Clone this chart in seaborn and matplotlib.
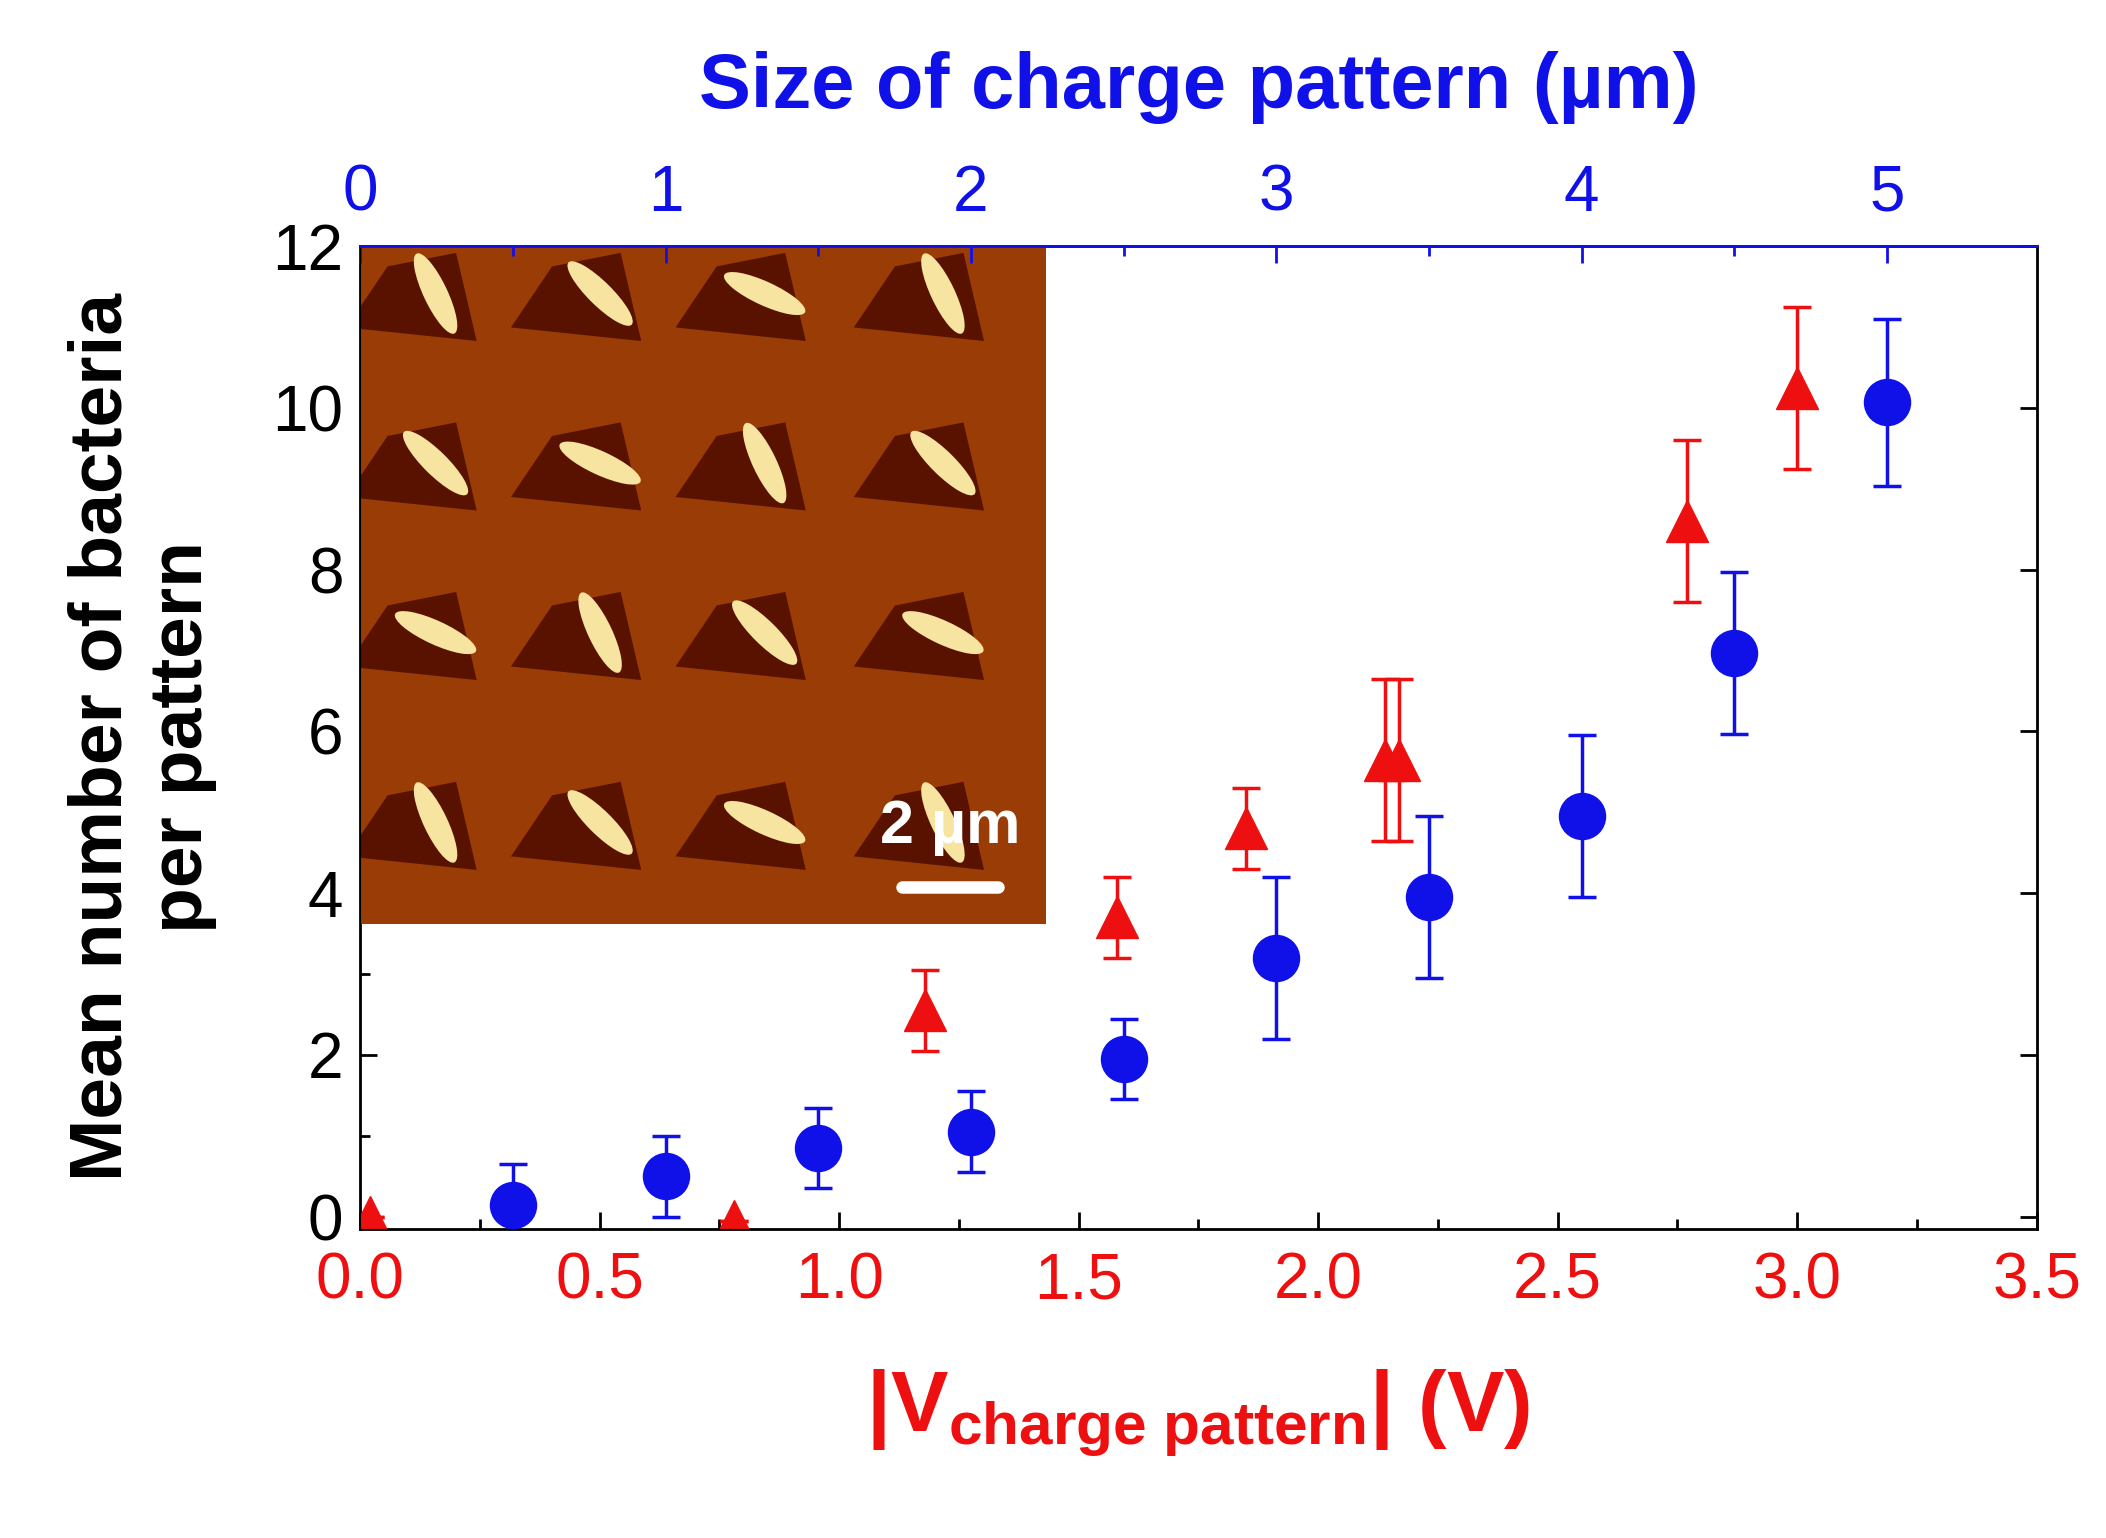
import numpy as np
import matplotlib
matplotlib.use("Agg")
import matplotlib.pyplot as plt
import seaborn as sns
from matplotlib.ticker import MultipleLocator
from matplotlib.patches import Ellipse, Polygon

sns.set_style("ticks")
plt.rcParams["font.family"] = "Liberation Sans"
plt.rcParams["font.sans-serif"] = ["Liberation Sans"]
plt.rcParams["mathtext.fontset"] = "custom"
plt.rcParams["mathtext.bf"] = "Liberation Sans:bold"
plt.rcParams["mathtext.rm"] = "Liberation Sans:bold"
plt.rcParams["text.color"] = "black"
plt.rcParams["axes.labelcolor"] = "black"
plt.rcParams["xtick.color"] = "black"
plt.rcParams["ytick.color"] = "black"
plt.rcParams["axes.edgecolor"] = "black"

# Blue series: size of charge pattern (µm) on top axis
blue_size = [0.5, 1.0, 1.5, 2.0, 2.5, 3.0, 3.5, 4.0, 4.5, 5.0]
blue_mean = [0.15, 0.5, 0.85, 1.05, 1.95, 3.2, 3.95, 4.95, 6.97, 10.07]
blue_err = [0.5, 0.5, 0.5, 0.5, 0.5, 1.0, 1.0, 1.0, 1.0, 1.03]

# Red series: |V charge pattern| (V) on bottom axis
red_v = [0.02, 0.78, 1.18, 1.58, 1.85, 2.14, 2.17, 2.77, 3.0]
red_mean = [0.0, -0.05, 2.55, 3.7, 4.8, 5.65, 5.65, 8.6, 10.25]
red_err = [0.0, 0.0, 0.5, 0.5, 0.5, 1.0, 1.0, 1.0, 1.0]

V_PER_UM = 3.188 / 5.0
BLUE = "#1010e8"
RED = "#ee1010"

fig = plt.figure(figsize=(21.06, 15.38), dpi=100)
ax = fig.add_axes([0.171, 0.201, 0.796, 0.639])

ax.errorbar(red_v, red_mean, yerr=red_err, fmt="^", color=RED, ms=30,
            elinewidth=2.5, capsize=10, capthick=2.5, zorder=3)
ax.set_xlim(0, 3.5)
ax.set_ylim(-0.15, 12)
ax.xaxis.set_major_locator(MultipleLocator(0.5))
ax.xaxis.set_minor_locator(MultipleLocator(0.25))
ax.yaxis.set_major_locator(MultipleLocator(2))
ax.yaxis.set_minor_locator(MultipleLocator(1))
ax.tick_params(axis="both", which="both", direction="in", width=2)
ax.tick_params(which="major", length=12)
ax.tick_params(which="minor", length=7)
ax.tick_params(axis="x", labelsize=46, labelcolor=RED, pad=16)
ax.tick_params(axis="y", labelsize=46, labelcolor="black", right=True, pad=12)
for s in ax.spines.values():
    s.set_linewidth(2)
ax.set_xlabel(r"|V$_{\mathbf{charge\ pattern}}$| (V)", fontsize=62,
              fontweight="bold", color=RED, labelpad=40)
ax.set_ylabel("Mean number of bacteria\nper pattern", fontsize=54,
              fontweight="bold", color="black", labelpad=40)

top = ax.twiny()
sns.scatterplot(x=blue_size, y=blue_mean, ax=top, color=BLUE, marker="o",
                s=1000, edgecolor=BLUE, zorder=4, legend=False)
top.errorbar(blue_size, blue_mean, yerr=blue_err, fmt="none", ecolor=BLUE,
             elinewidth=2.5, capsize=10, capthick=2.5)
top.set_xlim(0, 3.5 / V_PER_UM)
top.xaxis.set_major_locator(MultipleLocator(1))
top.xaxis.set_minor_locator(MultipleLocator(0.5))
top.tick_params(axis="x", which="both", direction="in", width=2,
                labelsize=46, labelcolor=BLUE, color=BLUE, pad=16)
top.tick_params(which="major", length=12)
top.tick_params(which="minor", length=7)
top.spines["top"].set_color(BLUE)
top.spines["top"].set_linewidth(2)
top.set_xlabel("Size of charge pattern (µm)", fontsize=56, fontweight="bold",
               color=BLUE, labelpad=40)

# Inset AFM-like image
ins = ax.inset_axes([0.0, 0.31, 0.409, 0.69])
ins.set_facecolor("#9a3c06")
ins.set_xlim(0, 10); ins.set_ylim(0, 10)
ins.set_xticks([]); ins.set_yticks([])
for s in ins.spines.values():
    s.set_visible(False)
rows = [9.3, 6.8, 4.3, 1.5]
cols = [0.8, 3.2, 5.6, 8.2]
for i, yy in enumerate(rows):
    for j, xx in enumerate(cols):
        ins.add_patch(Polygon([[xx - 1.0, yy - 0.5], [xx + 0.9, yy - 0.7],
                               [xx + 0.6, yy + 0.6], [xx - 0.4, yy + 0.4]],
                              closed=True, color="#5a1200", lw=0))
        ins.add_patch(Ellipse((xx + 0.3, yy), 0.35, 1.3,
                              angle=25 + 20 * ((i + j) % 3), color="#f6e4a0", lw=0))
ins.text(8.6, 1.0, "2 µm", color="white", fontsize=44, fontweight="bold",
         ha="center", va="bottom")
ins.plot([7.9, 9.3], [0.55, 0.55], color="white", lw=9)

fig.savefig("out.png", dpi=100)
